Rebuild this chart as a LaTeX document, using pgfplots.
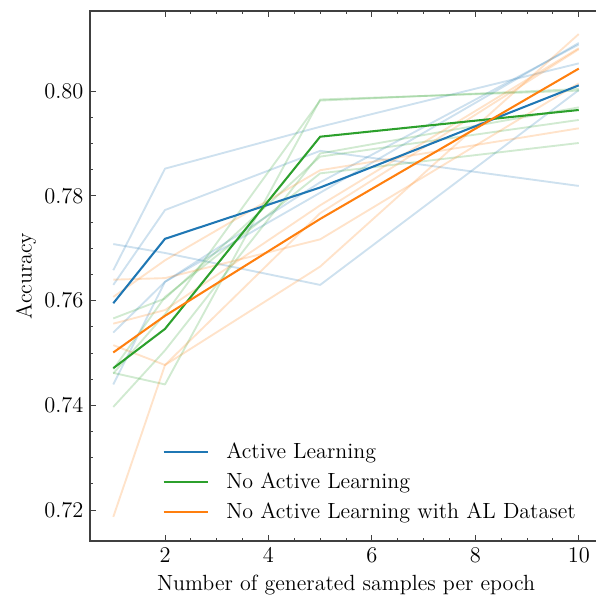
\documentclass[border=0pt]{standalone}
\usepackage{pgfplots}
\pgfplotsset{compat=1.18}
\definecolor{cb}{HTML}{1F77B4}
\definecolor{cg}{HTML}{2CA02C}
\definecolor{co}{HTML}{FF7F0E}
\begin{document}
\begin{tikzpicture}[font=\fontsize{11.75}{14}\selectfont]
\begin{axis}[
  scale only axis,
  width=273.8pt, height=283.4pt,
  xmin=0.55, xmax=10.45,
  ymin=0.7141, ymax=0.8153,
  xtick={2,4,6,8,10},
  ytick={0.72,0.74,0.76,0.78,0.80},
  minor x tick num=3,
  minor y tick num=3,
  scaled y ticks=false,
  yticklabel style={/pgf/number format/.cd, fixed, fixed zerofill, precision=2},
  tick label style={font=\fontsize{11.75}{14}\selectfont},
  label style={font=\fontsize{11.75}{14}\selectfont},
  ylabel style={yshift=-2.5pt},
  tick align=inside,
  major tick length=3pt,
  minor tick length=1.6pt,
  axis line style={black!75, line width=0.6pt},
  every tick/.style={black!75, line width=0.5pt},
  xlabel={Number of generated samples per epoch},
  ylabel={Accuracy},
  faint/.style={line width=1pt, opacity=0.22, line join=round},
  main/.style={line width=1.1pt, line join=round},
  legend cell align=left,
  legend style={draw=none, fill=none, at={(0.13,0.022)}, anchor=south west, row sep=2.2pt,
    font=\fontsize{11.75}{14}\selectfont,
    /tikz/every odd column/.append style={column sep=7pt}},
  legend image code/.code={\draw[#1] (0pt,0pt) -- (24pt,0pt);},
]
% Active Learning runs
\addplot[cb, faint, forget plot] coordinates {(1,0.7708) (2,0.7691) (5,0.7630) (10,0.8002)};
\addplot[cb, faint, forget plot] coordinates {(1,0.7658) (2,0.7852) (5,0.7932) (10,0.8053)};
\addplot[cb, faint, forget plot] coordinates {(1,0.7630) (2,0.7773) (5,0.7886) (10,0.7819)};
\addplot[cb, faint, forget plot] coordinates {(1,0.7440) (2,0.7636) (5,0.7806) (10,0.8092)};
\addplot[cb, faint, forget plot] coordinates {(1,0.7539) (2,0.7636) (5,0.7826) (10,0.8089)};
% No Active Learning runs
\addplot[cg, faint, forget plot] coordinates {(1,0.7397) (2,0.7505) (5,0.7881) (10,0.7969)};
\addplot[cg, faint, forget plot] coordinates {(1,0.7462) (2,0.7440) (5,0.7984) (10,0.8001)};
\addplot[cg, faint, forget plot] coordinates {(1,0.7566) (2,0.7604) (5,0.7875) (10,0.7945)};
\addplot[cg, faint, forget plot] coordinates {(1,0.7469) (2,0.7607) (5,0.7843) (10,0.7901)};
\addplot[cg, faint, forget plot] coordinates {(1,0.7461) (2,0.7574) (5,0.7982) (10,0.8004)};
% No Active Learning with AL Dataset runs
\addplot[co, faint, forget plot] coordinates {(1,0.7640) (2,0.7643) (5,0.7717) (10,0.8015)};
\addplot[co, faint, forget plot] coordinates {(1,0.7607) (2,0.7677) (5,0.7849) (10,0.7929)};
\addplot[co, faint, forget plot] coordinates {(1,0.7556) (2,0.7582) (5,0.7782) (10,0.8082)};
\addplot[co, faint, forget plot] coordinates {(1,0.7187) (2,0.7477) (5,0.7767) (10,0.8080)};
\addplot[co, faint, forget plot] coordinates {(1,0.7515) (2,0.7477) (5,0.7665) (10,0.8109)};
% means
\addplot[cb, main] coordinates {(1,0.7595) (2,0.7718) (5,0.7816) (10,0.8011)};
\addlegendentry{Active Learning}
\addplot[cg, main] coordinates {(1,0.7471) (2,0.7546) (5,0.7913) (10,0.7964)};
\addlegendentry{No Active Learning}
\addplot[co, main] coordinates {(1,0.7501) (2,0.7571) (5,0.7756) (10,0.8043)};
\addlegendentry{No Active Learning with AL Dataset}
\coordinate (bbSW) at (rel axis cs:-0.1758,-0.1151);
\coordinate (bbNE) at (rel axis cs:0.9863,1.0208);
\end{axis}
\pgfresetboundingbox
\path[use as bounding box] (bbSW) rectangle (bbNE);
\end{tikzpicture}
\end{document}
